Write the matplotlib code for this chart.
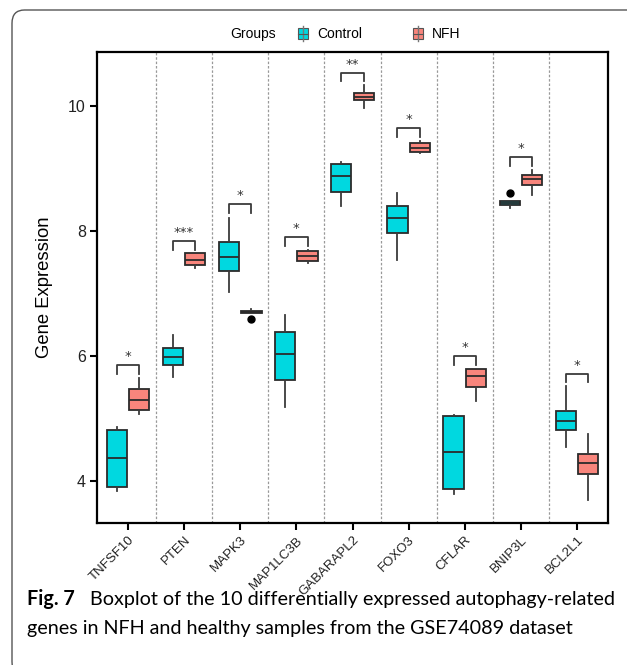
import matplotlib
matplotlib.use('Agg')
import matplotlib.pyplot as plt
import matplotlib.transforms as mtrans
from matplotlib.patches import FancyBboxPatch, Rectangle
from matplotlib.lines import Line2D

genes = ['TNFSF10', 'PTEN', 'MAPK3', 'MAP1LC3B', 'GABARAPL2',
         'FOXO3', 'CFLAR', 'BNIP3L', 'BCL2L1']

# box stats per gene: [whisker low, q1, median, q3, whisker high]
control = [
    [3.84, 3.90, 4.37, 4.82, 4.86],
    [5.66, 5.85, 5.99, 6.12, 6.34],
    [7.03, 7.36, 7.59, 7.83, 8.21],
    [5.18, 5.62, 6.03, 6.38, 6.66],
    [8.39, 8.62, 8.88, 9.07, 9.10],
    [7.53, 7.96, 8.21, 8.40, 8.61],
    [3.80, 3.88, 4.47, 5.04, 5.06],
    [8.37, 8.41, 8.44, 8.47, 8.47],
    [4.54, 4.82, 4.96, 5.12, 5.52],
]
nfh = [
    [5.08, 5.13, 5.29, 5.48, 5.65],
    [7.40, 7.45, 7.54, 7.64, 7.65],
    [6.69, 6.69, 6.71, 6.72, 6.75],
    [7.48, 7.52, 7.60, 7.68, 7.70],
    [9.97, 10.09, 10.14, 10.20, 10.33],
    [9.24, 9.26, 9.33, 9.40, 9.44],
    [5.28, 5.50, 5.68, 5.79, 5.80],
    [8.57, 8.73, 8.83, 8.90, 8.98],
    [3.69, 4.12, 4.29, 4.43, 4.75],
]
control_outliers = [[], [], [], [], [], [], [], [8.61], []]
nfh_outliers = [[], [], [6.59], [], [], [], [], [], []]

# significance brackets: top of bracket, label
bracket_top = [5.86, 7.84, 8.43, 7.90, 10.53, 9.64, 6.00, 9.18, 5.72]
signif = ['*', '***', '*', '*', '**', '*', '*', '*', '*']

col_control = '#00D8E0'
col_nfh = '#F8857C'
edge = '#2b2b2b'

W, H = 627, 665
fig = plt.figure(figsize=(W / 100, H / 100), dpi=100)

def fx(px):
    return px / W

def fy(py):
    return 1 - py / H

# rounded frame around the figure panel
frame = FancyBboxPatch((fx(12), fy(675)), fx(645) - fx(12), fy(10) - fy(675),
                       boxstyle='round,pad=0,rounding_size=0.02',
                       transform=fig.transFigure, fill=False,
                       edgecolor='#555555', linewidth=1.0)
fig.patches.append(frame)

ax = fig.add_axes([fx(97), fy(523), fx(608) - fx(97), fy(52) - fy(523)])

def stats(vals, outs):
    lo, q1, med, q3, hi = vals
    return dict(whislo=lo, q1=q1, med=med, q3=q3, whishi=hi, fliers=outs)

pos = list(range(1, len(genes) + 1))
off = 0.2
bw = 0.36
for group, outs, col, sign in [(control, control_outliers, col_control, -1),
                               (nfh, nfh_outliers, col_nfh, 1)]:
    st = [stats(v, o) for v, o in zip(group, outs)]
    ax.bxp(st, positions=[p + sign * off for p in pos], widths=bw,
           patch_artist=True, showcaps=False,
           boxprops=dict(facecolor=col, edgecolor=edge, linewidth=1.3),
           medianprops=dict(color=edge, linewidth=1.3),
           whiskerprops=dict(color='#3a3a3a', linewidth=1.3),
           flierprops=dict(marker='o', markerfacecolor='black',
                           markeredgecolor='black', markersize=5))

# brackets with stars
for p, top, s in zip(pos, bracket_top, signif):
    x0, x1 = p - off, p + off
    ax.plot([x0, x0, x1, x1], [top - 0.14, top, top, top - 0.14],
            color='#3a3a3a', linewidth=1.3)
    ax.text(p, top + 0.03, s, ha='center', va='bottom', fontsize=9.5,
            color='#333333', family='DejaVu Sans')

# dashed separators between genes
for p in pos[:-1]:
    ax.axvline(p + 0.5, color='#999999', linestyle=(0, (2, 1.5)),
               linewidth=0.9)

ax.set_xlim(0.45, 9.55)
ax.set_ylim(3.33, 10.86)
ax.set_xticks(pos)
ax.set_xticklabels(genes, rotation=45, ha='right', va='top',
                   rotation_mode='anchor', fontsize=9.5,
                   family='Liberation Sans', color='#222222')
shift = mtrans.ScaledTranslation(4 / 100, -1 / 100, fig.dpi_scale_trans)
for lbl in ax.get_xticklabels():
    lbl.set_transform(lbl.get_transform() + shift)
ax.set_yticks([4, 6, 8, 10])
ax.set_yticklabels(['4', '6', '8', '10'], fontsize=11.5,
                   family='Liberation Sans', color='#222222')
ax.tick_params(axis='both', length=5, width=1.5, color='black', pad=3)
for sp in ax.spines.values():
    sp.set_linewidth(1.6)
    sp.set_color('black')
ax.set_ylabel('Gene Expression', fontsize=13.3, family='Liberation Sans',
              labelpad=11)

# legend row at the top
fig.text(fx(230), fy(34), 'Groups', fontsize=10, family='Liberation Sans',
         va='center', ha='left')
for x_icon, x_txt, col, lab in [(298, 317, col_control, 'Control'),
                                (413, 432, col_nfh, 'NFH')]:
    fig.add_artist(Line2D([fx(x_icon + 5)] * 2, [fy(41), fy(26)],
                          color='#777777', linewidth=1,
                          transform=fig.transFigure))
    fig.add_artist(Rectangle((fx(x_icon), fy(39)), fx(10), fy(28.5) - fy(39),
                             facecolor=col, edgecolor='#555555',
                             linewidth=0.8, transform=fig.transFigure))
    fig.add_artist(Line2D([fx(x_icon), fx(x_icon + 10)], [fy(33.7)] * 2,
                          color='#555555', linewidth=0.8,
                          transform=fig.transFigure))
    fig.text(fx(x_txt), fy(34), lab, fontsize=10, family='Liberation Sans',
             va='center', ha='left')

# caption
cap_font = 'Lato'
fig.text(fx(27), fy(605), 'Fig. 7', fontsize=14.2, fontweight='bold',
         family=cap_font, va='baseline', ha='left')
fig.text(fx(90), fy(605),
         'Boxplot of the 10 differentially expressed autophagy-related',
         fontsize=14.2, family=cap_font, va='baseline', ha='left')
fig.text(fx(27), fy(634),
         'genes in NFH and healthy samples from the GSE74089 dataset',
         fontsize=14.2, family=cap_font, va='baseline', ha='left')

fig.savefig('out.png', dpi=100)
